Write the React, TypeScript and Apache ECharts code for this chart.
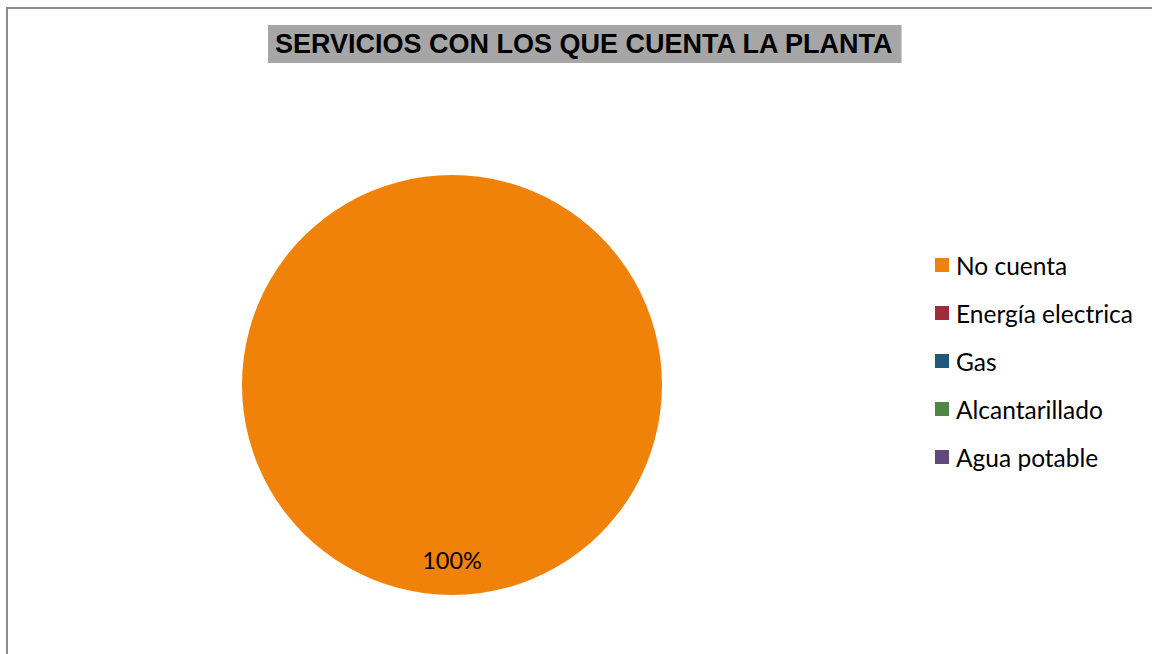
import React, { useEffect, useRef } from "react";
import * as echarts from "echarts";

const titleText = "SERVICIOS CON LOS QUE CUENTA LA PLANTA";
const categories = ["No cuenta", "Energía electrica", "Gas", "Alcantarillado", "Agua potable"];
const values = [100, 0, 0, 0, 0];
const colors = ["#F0820A", "#A02B3B", "#1F5878", "#4F8645", "#5F4A7B"];

export default function App() {
  const ref = useRef<HTMLDivElement>(null);
  useEffect(() => {
    const chart = echarts.init(ref.current!, undefined, { renderer: "svg" });
    const data = categories.map((name, i) => ({ name, value: values[i], itemStyle: { color: colors[i] } }));
    chart.setOption({
      animation: false,
      backgroundColor: "#ffffff",
      title: {
        text: titleText,
        left: 268,
        top: 25,
        padding: [5, 7, 5, 7],
        backgroundColor: "#A6A6A6",
        textStyle: { fontFamily: "Liberation Sans", fontWeight: "bold", fontSize: 27, lineHeight: 28, color: "#000" },
      },
      legend: {
        orient: "vertical",
        left: 930,
        top: 246,
        icon: "rect",
        itemWidth: 14,
        itemHeight: 14,
        itemGap: 20,
        data: categories,
        textStyle: { fontFamily: "Lato", fontSize: 24.5, color: "#000", lineHeight: 28, padding: [0, 0, 0, 2] },
      },
      graphic: [
        {
          type: "rect",
          shape: { x: 7, y: 8, width: 1170, height: 700 },
          style: { fill: "none", stroke: "#8C8C8C", lineWidth: 2 },
          silent: true,
        },
      ],
      series: [
        {
          type: "pie",
          center: [452, 385],
          radius: [0, 210],
          startAngle: 90,
          clockwise: true,
          data,
          label: { show: false },
          labelLine: { show: false },
          emphasis: { disabled: true },
        },
        {
          type: "pie",
          center: [452, 385],
          radius: [134, 210],
          startAngle: 90,
          clockwise: true,
          silent: true,
          data: categories.map((name, i) => ({ name, value: values[i], itemStyle: { color: "rgba(0,0,0,0)" } })),
          label: {
            show: true,
            position: "inside",
            fontFamily: "Lato",
            fontSize: 23.5,
            color: "#000",
            formatter: (p: any) => (p.value > 0 ? Math.round(p.percent) + "%" : ""),
          },
          labelLine: { show: false },
          emphasis: { disabled: true },
        },
      ],
    });
    return () => chart.dispose();
  }, []);
  return <div ref={ref} style={{ position: "absolute", left: 0, top: 0, width: 1152, height: 654 }} />;
}
